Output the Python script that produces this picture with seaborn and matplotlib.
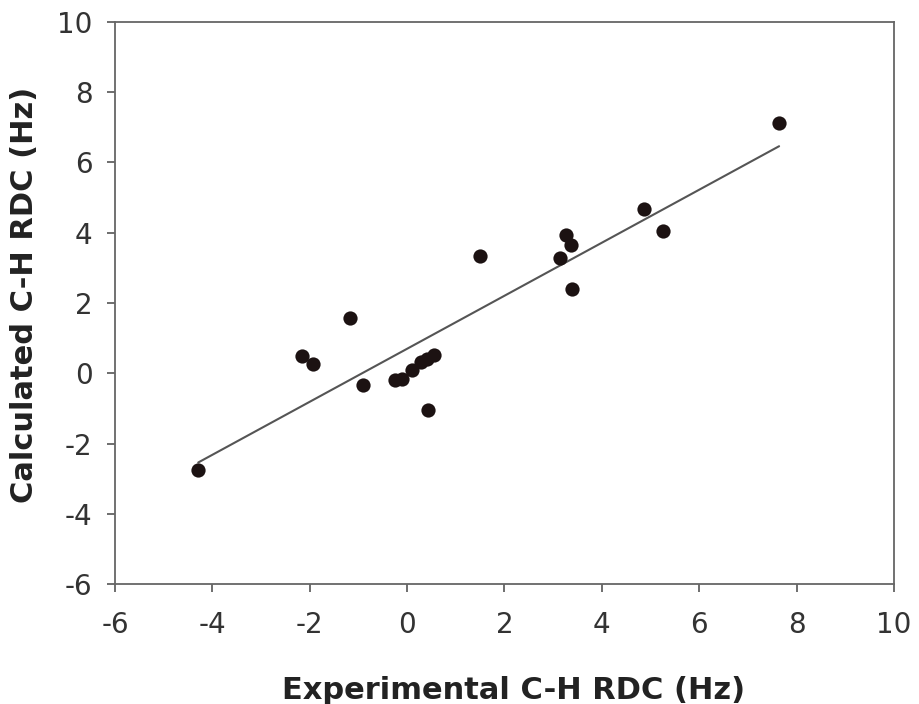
import pandas as pd
import matplotlib
matplotlib.use("Agg")
import matplotlib.pyplot as plt
import seaborn as sns

# values
exp_rdc = [-4.29, -2.16, -1.93, -1.17, -0.90, -0.25, -0.10, 0.10, 0.29, 0.41,
           0.55, 0.43, 1.50, 3.14, 3.26, 3.37, 3.39, 4.87, 5.26, 7.64]
calc_rdc = [-2.74, 0.49, 0.26, 1.57, -0.34, -0.20, -0.17, 0.11, 0.31, 0.40,
            0.51, -1.03, 3.34, 3.29, 3.94, 3.66, 2.40, 4.69, 4.06, 7.11]
ticks = [-6, -4, -2, 0, 2, 4, 6, 8, 10]

df = pd.DataFrame({"exp": exp_rdc, "calc": calc_rdc})

sns.set_style("white")
plt.rcParams["font.family"] = ["DejaVu Sans"]
plt.rcParams["axes.unicode_minus"] = False

fig = plt.figure(figsize=(9.19, 7.04), dpi=100)
ax = fig.add_axes([0.1251, 0.170, 0.8477, 0.799])

sns.regplot(data=df, x="exp", y="calc", ci=None, ax=ax,
            scatter_kws={"s": 105, "color": "#1c1212", "alpha": 1,
                         "linewidths": 0, "zorder": 3},
            line_kws={"color": "#555555", "linewidth": 1.5})

ax.set_xlim(-6, 10)
ax.set_ylim(-6, 10)
ax.set_xticks(ticks)
ax.set_yticks(ticks)
ax.tick_params(axis="both", which="both", direction="out", length=6, width=1.2,
               color="#555555", labelsize=20, labelcolor="#333333",
               bottom=True, left=True, top=False, right=False)
ax.tick_params(axis="x", pad=13)
ax.tick_params(axis="y", pad=10)

for side in ["left", "bottom", "top", "right"]:
    ax.spines[side].set_visible(True)
    ax.spines[side].set_color("#666666")
    ax.spines[side].set_linewidth(1.3)

ax.set_xlabel("Experimental C-H RDC (Hz)", fontsize=22, fontweight="bold",
              color="#222222", labelpad=27, x=0.512)
ax.set_ylabel("Calculated C-H RDC (Hz)", fontsize=22, fontweight="bold",
              color="#222222", labelpad=13, y=0.514)

fig.savefig("out.png", dpi=100)
